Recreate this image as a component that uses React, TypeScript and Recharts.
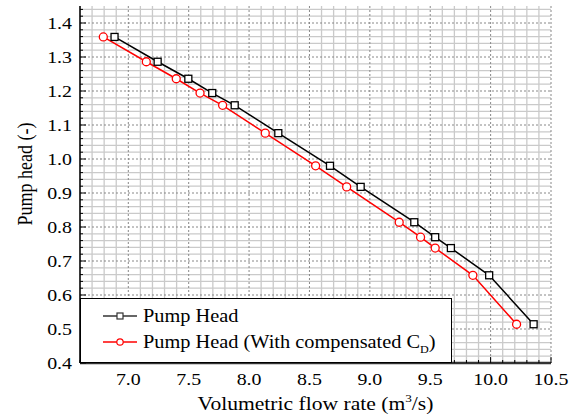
import { CartesianGrid, Label, Line, LineChart, XAxis, YAxis } from "recharts";

const headValues = [1.359, 1.286, 1.236, 1.194, 1.158, 1.076, 0.98, 0.918, 0.814, 0.77, 0.738, 0.658, 0.514];
const flowPump = [6.886, 7.243, 7.497, 7.695, 7.881, 8.242, 8.67, 8.924, 9.368, 9.541, 9.671, 9.988, 10.356];
const flowCompensated = [6.793, 7.149, 7.397, 7.594, 7.781, 8.134, 8.551, 8.808, 9.243, 9.42, 9.541, 9.853, 10.215];

const xTickLabels = [7.0, 7.5, 8.0, 8.5, 9.0, 9.5, 10.0, 10.5];
const yTickLabels = [0.4, 0.5, 0.6, 0.7, 0.8, 0.9, 1.0, 1.1, 1.2, 1.3, 1.4];

const X_DOMAIN: [number, number] = [6.6, 10.5];
const Y_DOMAIN: [number, number] = [0.4, 1.45];

// minor steps for grid + inner ticks
const xMinor = Array.from({ length: 40 }, (_, i) => Math.round((6.6 + i * 0.1) * 10) / 10);
const yMinor = Array.from({ length: 53 }, (_, i) => Math.round((0.4 + i * 0.02) * 100) / 100);
const isMajorX = (v: number) => Math.round(v * 10) % 5 === 0;
const isMajorY = (v: number) => Math.round(v * 100) % 10 === 0;

const pumpData = flowPump.map((f, i) => ({ flow: f, head: headValues[i] }));
const compData = flowCompensated.map((f, i) => ({ flow: f, head: headValues[i] }));

const FONT = "'Liberation Serif', 'Times New Roman', serif";
// the source figure is a bit wider than tall, text looks stretched
const STRETCH = 1.17;

function XTick({ x, y, payload }: any) {
  const v = payload.value;
  const major = isMajorX(v);
  return (
    <g>
      <line x1={x} x2={x} y1={y} y2={y - (major ? 6 : 3)} stroke="#000" strokeWidth={1} />
      {major && (
        <text
          transform={`translate(${x},${y + 22}) scale(${STRETCH},1)`}
          textAnchor="middle"
          fontFamily={FONT}
          fontSize={17}
          fill="#000"
        >
          {v.toFixed(1)}
        </text>
      )}
    </g>
  );
}

function YTick({ x, y, payload }: any) {
  const v = payload.value;
  const major = isMajorY(v);
  return (
    <g>
      <line x1={x} x2={x + (major ? 6 : 3)} y1={y} y2={y} stroke="#000" strokeWidth={1} />
      {major && (
        <text
          transform={`translate(${x - 8},${y + 5.5}) scale(${STRETCH},1)`}
          textAnchor="end"
          fontFamily={FONT}
          fontSize={17}
          fill="#000"
        >
          {v.toFixed(1)}
        </text>
      )}
    </g>
  );
}

function SquareDot({ cx, cy, index }: any) {
  return <rect key={index} x={cx - 3.5} y={cy - 3.5} width={7} height={7} fill="#fff" stroke="#000" strokeWidth={1.3} />;
}

function Legend() {
  return (
    <div
      style={{
        position: "absolute",
        left: 80,
        top: 298,
        width: 372,
        height: 65,
        boxSizing: "border-box",
        border: "1.5px solid #000",
        background: "#fff",
      }}
    >
      <svg width={370} height={62} style={{ display: "block" }}>
        <line x1={22} x2={56} y1={17} y2={17} stroke="#333" strokeWidth={1.5} />
        <rect x={36} y={14} width={6} height={6} fill="#fff" stroke="#333" strokeWidth={1.2} />
        <text transform="translate(62,23) scale(1.1,1)" fontFamily={FONT} fontSize={18.5} fill="#000">
          Pump Head
        </text>
        <line x1={22} x2={56} y1={43} y2={43} stroke="#ff0000" strokeWidth={1.5} />
        <circle cx={39} cy={43} r={3.2} fill="#fff" stroke="#ff0000" strokeWidth={1.2} />
        <text transform="translate(62,49) scale(1.1,1)" fontFamily={FONT} fontSize={18.5} fill="#000">
          Pump Head (With compensated C
          <tspan fontSize={11} dy={5}>D</tspan>
          <tspan dy={-5}>)</tspan>
        </text>
      </svg>
    </div>
  );
}

export default function App() {
  return (
    <div style={{ position: "absolute", left: 0, top: 0, width: 576, height: 416, background: "#fff" }}>
      <LineChart width={576} height={416} margin={{ top: 6, right: 25, bottom: 0, left: 0 }}>
        <CartesianGrid
          stroke="#cacaca"
          strokeWidth={1.3}
          verticalValues={xMinor.filter((v) => !isMajorX(v))}
          horizontalValues={yMinor.filter((v) => !isMajorY(v))}
        />
        <CartesianGrid stroke="#888" strokeDasharray="2 2" verticalValues={xTickLabels} horizontalValues={yTickLabels} />
        <XAxis
          dataKey="flow"
          type="number"
          domain={X_DOMAIN}
          ticks={xMinor}
          interval={0}
          allowDataOverflow
          height={53}
          tickSize={0}
          tickMargin={0}
          tickLine={false}
          tick={<XTick />}
          axisLine={{ stroke: "#333", strokeWidth: 2.5 }}
        >
          <Label
            content={({ viewBox }: any) => (
              <text
                transform={`translate(${viewBox.x + viewBox.width / 2},410) scale(1.2,1)`}
                textAnchor="middle"
                fontFamily={FONT}
                fontSize={18}
                fill="#000"
              >
                Volumetric flow rate (m
                <tspan fontSize={11} dy={-8}>3</tspan>
                <tspan dy={8}>/s)</tspan>
              </text>
            )}
          />
        </XAxis>
        <XAxis
          xAxisId="top"
          orientation="top"
          type="number"
          domain={X_DOMAIN}
          height={0}
          tick={false}
          tickLine={false}
          axisLine={{ stroke: "#000", strokeWidth: 1.5 }}
        />
        <YAxis
          type="number"
          domain={Y_DOMAIN}
          ticks={yMinor}
          interval={0}
          allowDataOverflow
          width={80}
          tickSize={0}
          tickMargin={0}
          tickLine={false}
          tick={<YTick />}
          axisLine={{ stroke: "#000", strokeWidth: 1.5 }}
        >
          <Label
            content={() => (
              <text
                transform="translate(32,174) rotate(-90) scale(1,1.17)"
                textAnchor="middle"
                fontFamily={FONT}
                fontSize={18}
                fill="#000"
              >
                Pump head (-)
              </text>
            )}
          />
        </YAxis>
        <YAxis
          yAxisId="right"
          orientation="right"
          type="number"
          domain={Y_DOMAIN}
          width={0}
          tick={false}
          tickLine={false}
          axisLine={{ stroke: "#666", strokeWidth: 2 }}
        />
        <Line
          data={pumpData}
          dataKey="head"
          stroke="#000"
          strokeWidth={1.5}
          dot={<SquareDot />}
          isAnimationActive={false}
          name="Pump Head"
        />
        <Line
          data={compData}
          dataKey="head"
          stroke="#ff0000"
          strokeWidth={1.5}
          dot={{ r: 4, fill: "#fff", stroke: "#ff0000", strokeWidth: 1.3 }}
          isAnimationActive={false}
          name="Pump Head (With compensated CD)"
        />
      </LineChart>
      <Legend />
    </div>
  );
}
